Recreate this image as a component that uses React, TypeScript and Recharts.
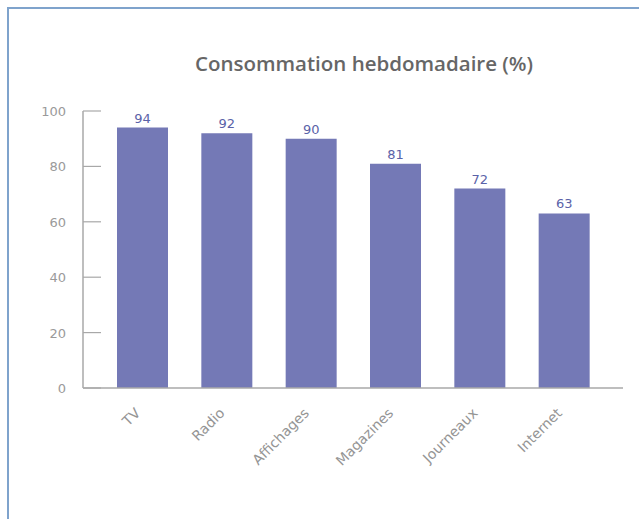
import React from "react";
import { BarChart, Bar, XAxis, YAxis, LabelList } from "recharts";

const categories = ["TV", "Radio", "Affichages", "Magazines", "Journeaux", "Internet"];
const values = [94, 92, 90, 81, 72, 63];
const yTicks = [0, 20, 40, 60, 80, 100];
const title = "Consommation hebdomadaire (%)";

const data = categories.map((name, i) => ({ name, value: values[i] }));

const AXIS_X = 83;

const YTick = (props: any) => {
  const { y, payload } = props;
  return (
    <g>
      <line x1={AXIS_X} x2={AXIS_X + 18} y1={y} y2={y} stroke="#a8a8a8" strokeWidth={1.2} />
      <text x={66} y={y} dy={5} textAnchor="end" fill="#9a9a9a" fontSize={13} fontFamily="DejaVu Sans">
        {payload.value}
      </text>
    </g>
  );
};

const XTick = (props: any) => {
  const { x, y, payload } = props;
  const tx = x - 1;
  const ty = y + 18;
  return (
    <text
      x={tx}
      y={ty}
      textAnchor="end"
      fill="#959595"
      fontSize={14}
      fontFamily="DejaVu Sans"
      transform={`rotate(-45 ${tx} ${ty})`}
    >
      {payload.value}
    </text>
  );
};

export default function App() {
  return (
    <div style={{ position: "absolute", left: 0, top: 0, width: 642, height: 519, background: "#fff", overflow: "hidden" }}>
      <div
        style={{
          position: "absolute",
          left: 7,
          top: 7,
          width: 630,
          height: 510,
          borderLeft: "2px solid #7fa3cc",
          borderTop: "2px solid #7fa3cc",
        }}
      />
      <div style={{ position: "absolute", left: 0, top: 0 }}>
        <BarChart width={642} height={519} data={data} margin={{ top: 111, right: 19, bottom: 101, left: 0 }}>
          <text x={364} y={71} textAnchor="middle" fill="#666" fontSize={20.5} fontWeight={600} fontFamily="Open Sans">
            {title}
          </text>
          <YAxis
            width={AXIS_X}
            domain={[0, 100]}
            ticks={yTicks}
            interval={0}
            tickLine={false}
            axisLine={{ stroke: "#a8a8a8", strokeWidth: 1.5 }}
            tick={<YTick />}
          />
          <XAxis
            dataKey="name"
            height={30}
            padding={{ left: 17, right: 17 }}
            tickLine={false}
            axisLine={{ stroke: "#a8a8a8", strokeWidth: 1.5 }}
            tick={<XTick />}
            interval={0}
          />
          <Bar dataKey="value" fill="#7479b6" barSize={51} isAnimationActive={false}>
            <LabelList dataKey="value" position="top" fill="#5a62a8" fontSize={13} fontFamily="DejaVu Sans" />
          </Bar>
        </BarChart>
      </div>
    </div>
  );
}
